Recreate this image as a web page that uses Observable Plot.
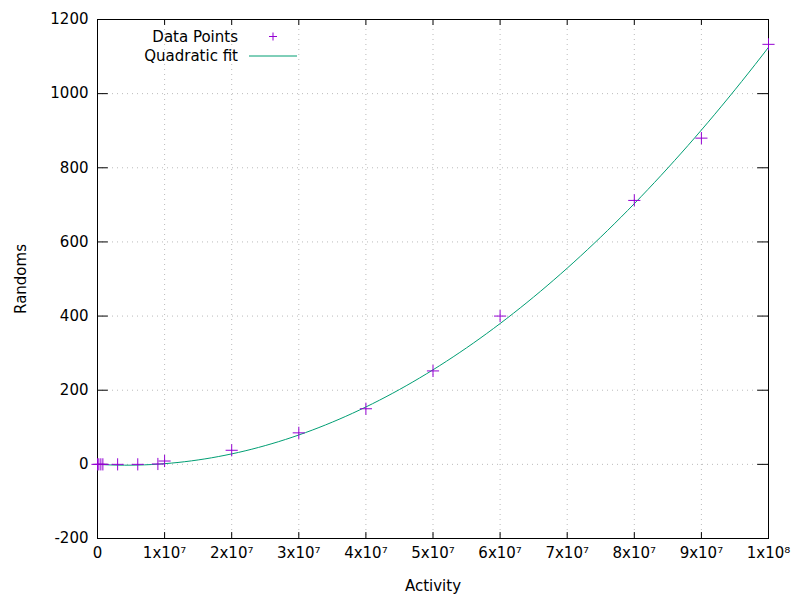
<!DOCTYPE html>
<html><head><meta charset="utf-8">
<script src="https://cdn.jsdelivr.net/npm/d3@7"></script>
<script src="https://cdn.jsdelivr.net/npm/@observablehq/plot@0.6"></script>
<style>body{margin:0;background:#fff} svg{overflow:visible}</style>
</head><body><div id="chart"></div>
<script>
// measured points
const activity = [0, 2e5, 5e5, 8e5, 3e6, 6e6, 9e6, 1e7, 2e7, 3e7, 4e7, 5e7, 6e7, 8e7, 9e7, 1e8];
const randoms  = [0, 0, 0, 0, 0, 0, 1, 9, 38, 85, 150, 252, 400, 712, 880, 1133];
// quadratic fit coefficients (u = activity / 1e8)
const fitA = 1230, fitB = -105, fitC = 0;
const xTicks = [0, 1e7, 2e7, 3e7, 4e7, 5e7, 6e7, 7e7, 8e7, 9e7, 1e8];
const xTickLabels = ["0", "1x10⁷", "2x10⁷", "3x10⁷", "4x10⁷", "5x10⁷", "6x10⁷", "7x10⁷", "8x10⁷", "9x10⁷", "1x10⁸"];
const yTicks = [-200, 0, 200, 400, 600, 800, 1000, 1200];

const points = activity.map((a, i) => ({a, r: randoms[i]}));
const fit = d3.range(0, 1.0001, 0.01).map(u => ({a: u * 1e8, r: fitA * u * u + fitB * u + fitC}));

const tx = 16e5, ty = 16;
const chart = Plot.plot({
  width: 800, height: 600,
  marginLeft: 97, marginRight: 32, marginTop: 19, marginBottom: 62,
  style: {fontFamily: "DejaVu Sans", fontSize: "15px", color: "#000", overflow: "visible"},
  x: {domain: [0, 1e8]},
  y: {domain: [-200, 1200]},
  marks: [
    Plot.gridX(xTicks, {stroke: "#bbb", strokeOpacity: 1, strokeDasharray: "1,4"}),
    Plot.gridY(yTicks, {stroke: "#bbb", strokeOpacity: 1, strokeDasharray: "1,4"}),
    Plot.ruleX(xTicks, {y1: -200, y2: -200 + ty, stroke: "#000"}),
    Plot.ruleX(xTicks, {y1: 1200, y2: 1200 - ty, stroke: "#000"}),
    Plot.ruleY(yTicks, {x1: 0, x2: tx, stroke: "#000"}),
    Plot.ruleY(yTicks, {x1: 1e8, x2: 1e8 - tx, stroke: "#000"}),
    Plot.frame({stroke: "#000"}),
    Plot.axisX(xTicks, {tickSize: 0, tickPadding: 9, tickFormat: (d, i) => xTickLabels[i], label: "Activity", labelAnchor: "center", labelArrow: "none", labelOffset: 52}),
    Plot.axisY(yTicks, {tickSize: 0, tickPadding: 9, tickFormat: d => String(d), label: "Randoms", labelAnchor: "center", labelArrow: "none", labelOffset: 82}),
    Plot.line(fit, {x: "a", y: "r", stroke: "#009e73", strokeWidth: 1}),
    Plot.dot(points, {x: "a", y: "r", symbol: "plus", r: 4, stroke: "#9400d3", strokeWidth: 1})
  ]
});
document.getElementById("chart").append(chart);

// legend, gnuplot style
const svg = d3.select(chart);
const lg = svg.append("g").style("font-family", "DejaVu Sans").style("font-size", "15px");
lg.append("text").attr("x", 238).attr("y", 42).attr("text-anchor", "end").text("Data Points");
lg.append("text").attr("x", 238).attr("y", 61).attr("text-anchor", "end").text("Quadratic fit");
lg.append("path").attr("d", "M269,36.5h8M273,32.5v8").attr("stroke", "#9400d3").attr("stroke-width", 1);
lg.append("line").attr("x1", 249).attr("x2", 297).attr("y1", 56).attr("y2", 56).attr("stroke", "#009e73");
</script></body></html>
